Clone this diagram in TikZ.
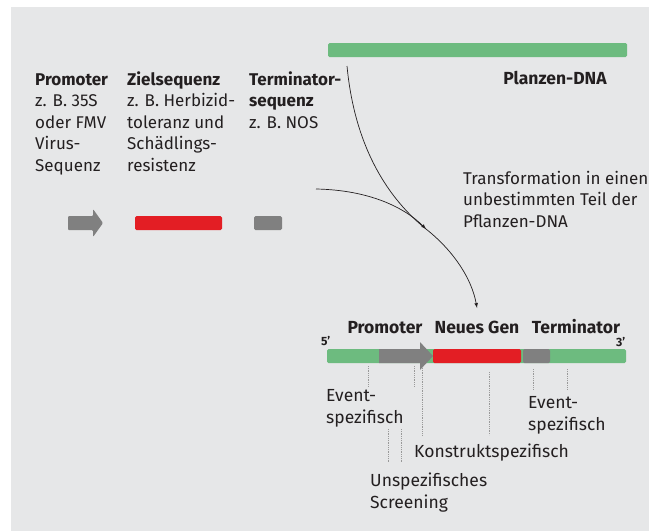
\documentclass[tikz,border=0pt]{standalone}
\usepackage{fontspec}
\setmainfont{Fira Sans}
\usetikzlibrary{arrows, positioning}

\definecolor{bggray}{RGB}{230,231,232}
\definecolor{dnagreen}{RGB}{109,187,127}
\definecolor{genred}{RGB}{227,30,36}
\definecolor{seqgray}{RGB}{128,128,128}
\definecolor{txtgray}{RGB}{35,31,32}

% multi-line labels sit on the baseline of their last line
\tikzset{
  lbl/.style={anchor=base west, inner sep=0pt, text=txtgray, align=left,
    font=\fontsize{17}{21.5}\selectfont},
  boldlbl/.style={lbl, font=\fontsize{17.5}{21.5}\selectfont\bfseries},
  smalllbl/.style={lbl, font=\fontsize{17.5}{21.5}\selectfont},
  bar/.style={rectangle, rounded corners=1.5pt, inner sep=0pt, minimum height=14pt},
  flow/.style={draw=txtgray, line width=0.7pt},
  probe/.style={draw=seqgray!80, densely dotted, line width=0.8pt}
}

\begin{document}
\begin{tikzpicture}[x=1pt, y=-1pt, >=latex]
    \useasboundingbox (0,0) rectangle (651,531);
    \fill[bggray] (11,7) rectangle (649,531);

    % plant DNA on top
    \node (pflanzenbar) [bar, fill=dnagreen, minimum width=299pt] at (477.5,50) {};
    \node (pflanzenlbl) [boldlbl, anchor=base] at (555,84) {Planzen-DNA};

    % construct parts
    \node (promlbl) [lbl] at (35,171) {\textbf{Promoter}\\z. B. 35S\\oder FMV\\Virus-\\Sequenz};
    \node (ziellbl) [lbl] at (127,171) {\textbf{Zielsequenz}\\z. B. Herbizid-\\toleranz und\\Schädlings-\\resistenz};
    \node (termlbl) [lbl] at (249,128) {\textbf{Terminator-}\\\textbf{sequenz}\\z. B. NOS};

    \fill[seqgray, rounded corners=1pt] (68,216) -- (93,216) -- (93,209) -- (103,223) -- (93,237) -- (93,230) -- (68,230) -- cycle;
    \node (zielbar) [bar, fill=genred, minimum width=87pt] at (178.5,223) {};
    \node (termbar) [bar, fill=seqgray, minimum width=28pt] at (268,223) {};

    \node (translbl) [lbl] at (463,227) {Transformation in einen\\unbestimmten Teil der\\Pflanzen-DNA};

    % transgenic DNA
    \node (genbar) [bar, fill=dnagreen, minimum width=299pt] at (476.5,356) {};
    \fill[seqgray] (379,349) -- (420,349) -- (420,342) -- (433,356) -- (420,370) -- (420,363) -- (379,363) -- cycle;
    \node (genred) [bar, fill=genred, minimum width=88pt] at (477,356) {};
    \node (genterm) [bar, fill=seqgray, minimum width=27pt] at (536.5,356) {};

    \node (prombot) [boldlbl, anchor=base] at (385,333) {Promoter};
    \node (neuesgen) [boldlbl, anchor=base] at (477,333) {Neues Gen};
    \node (termbot) [boldlbl, anchor=base] at (576,333) {Terminator};
    \node (fuenf) [lbl, font=\fontsize{12}{14}\selectfont\bfseries] at (321,345) {5’};
    \node (drei) [lbl, font=\fontsize{12}{14}\selectfont\bfseries] at (616,346) {3’};

    % insertion
    \coordinate (dropstart) at (347,66);
    \coordinate (insertstart) at (316,189);
    \coordinate (merge) at (426,229);
    \coordinate (geninsert) at (477,308);
    \draw[flow, ->] (dropstart) .. controls (355,150) and (390,200) .. (merge)
        .. controls (455,252) and (472,280) .. (geninsert);
    \draw[flow, ->] (insertstart) .. controls (370,190) and (405,208) .. (merge);

    % detection methods
    \foreach \x/\ya/\yb in {368/366/387, 414/366/387, 422/368/435, 489/372/435,
                            533/369/390, 567/369/390, 388/429/462, 401/429/462}
        \draw[probe] (\x,\ya) -- (\x,\yb);

    \node (eventl) [smalllbl] at (326,423) {Event-\\spezifisch};
    \node (eventr) [smalllbl] at (528,430) {Event-\\spezifisch};
    \node (konstrukt) [smalllbl] at (414,457) {Konstruktspezifisch};
    \node (screening) [smalllbl] at (370,508) {Unspezifisches\\Screening};
\end{tikzpicture}
\end{document}
